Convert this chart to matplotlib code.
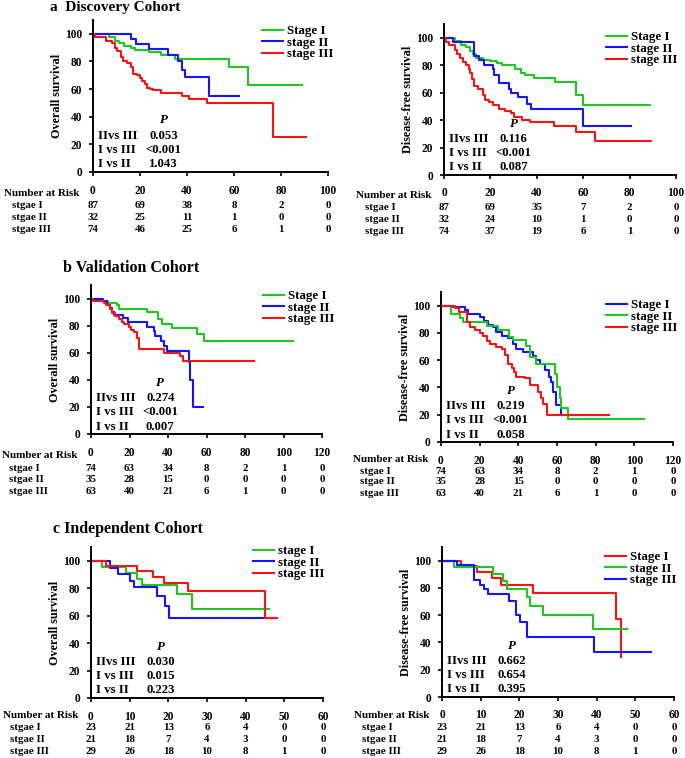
import matplotlib
matplotlib.use("Agg")
import matplotlib.pyplot as plt
from matplotlib.transforms import blended_transform_factory

plt.rcParams['font.family'] = ['Liberation Serif', 'DejaVu Serif']
plt.rcParams['font.weight'] = 'bold'

GREEN = '#1ec81e'
BLUE = '#1414f5'
RED = '#f51414'

# ---------------- curve data (time in months, survival %) ----------------
# a: Discovery cohort, overall survival
a_os_I_t = [0, 7, 9.5, 11, 13, 16, 18, 24, 29, 35, 58, 66, 89]
a_os_I_s = [100, 97.5, 95, 93, 91, 90, 88, 86.5, 85, 82, 76, 63, 63]
a_os_II_t = [0, 16, 18.4, 24, 32, 36, 37.8, 39, 49.5, 62]
a_os_II_s = [100, 96, 92.5, 89, 85, 80, 74, 68.5, 55, 55]
a_os_III_t = [0, 1, 5.7, 8, 9.5, 10.2, 12, 12.7, 14.4, 16, 17, 18.7, 20, 21, 22, 23,
              24.3, 25.7, 29, 37.8, 41, 48.4, 76.7, 90.5]
a_os_III_s = [100, 97.5, 95, 93, 90, 87.5, 83, 80, 79, 76, 71, 70, 68, 66, 64, 61,
              60, 59, 57, 55, 53, 50, 25, 25]
# a: Discovery cohort, disease-free survival
a_dfs_I_t = [0, 4.7, 7.5, 9.6, 11, 12.4, 13.8, 16.7, 20, 23, 25, 30.8, 33, 35, 39,
             48, 57, 60, 88.7]
a_dfs_I_s = [100, 97.5, 95, 93, 90, 88, 85.5, 84, 83, 81.5, 80, 77, 74, 72.5, 70.5,
             68, 58, 51, 51]
a_dfs_II_t = [0, 4, 13, 15, 17.4, 21, 21.6, 23.7, 28, 28.7, 32, 35.7, 37.6, 60, 80.6]
a_dfs_II_s = [100, 97, 87, 84, 80, 77, 73, 67, 63, 60, 57, 52, 48, 36, 36]
a_dfs_III_t = [0, 1, 2, 4.7, 5.6, 7, 8.2, 9.3, 10.6, 11.4, 12, 12.8, 14.5, 16.7, 17.6,
               19.2, 21, 23.7, 26.5, 29, 30, 33.6, 37, 47.5, 57, 65, 89.4]
a_dfs_III_s = [100, 97, 95, 91, 88, 85, 82, 80, 77, 74, 70, 65, 63, 58, 55,
               53, 51, 48, 46.5, 45, 42, 40, 38.5, 36, 31, 25, 25]

# b: Validation cohort, overall survival
b_os_I_t = [0, 5.7, 9, 13.5, 14.4, 29, 35, 37, 42, 55, 58.5, 105]
b_os_I_s = [100, 98, 97, 95, 92, 90, 85, 81, 78.5, 74, 69, 69]
b_os_II_t = [0, 6, 8.3, 9.7, 11, 11.8, 16.6, 19.2, 29, 32.5, 33, 36.4, 38, 39.5,
             50.7, 51.3, 53, 58]
b_os_II_s = [100, 98, 95, 93, 90, 88, 85.5, 82.5, 79, 76, 72.5, 69, 65, 61.5,
             53, 39.5, 20, 20]
b_os_III_t = [0, 1, 6.6, 8, 10, 11, 12.6, 14.4, 16, 17.3, 19.6, 21, 22.5, 24, 24.8,
              38, 46.4, 48, 84.5]
b_os_III_s = [100, 98.5, 97, 95, 92, 89, 87, 85, 83, 81, 79, 77, 75, 71, 63,
              60, 57.5, 54, 54]
# b: Validation cohort, disease-free survival
b_dfs_I_t = [0, 6.4, 12.4, 14, 20, 22, 24.4, 27, 28.7, 31.3, 34.8, 37.3, 39, 42.5,
             47.7, 49, 51, 53.7, 56, 57, 58, 59.4, 62.3, 70]
b_dfs_I_s = [100, 99, 97, 94, 92, 89, 86, 84, 81, 78, 76, 72, 68, 66,
             63, 60, 57, 53, 48, 44, 37, 27, 20, 20]
b_dfs_II_t = [0, 5, 9.8, 11.2, 23.6, 29.6, 35.3, 37.3, 44.2, 46, 49, 58.9, 60, 61.4,
              62.3, 65.7, 104.8]
b_dfs_II_s = [100, 94, 91, 88, 85, 82, 77, 74.5, 70.5, 62, 57.5, 50, 40, 32,
              25, 17, 17]
b_dfs_III_t = [0, 7.2, 9.3, 13.3, 15, 17.6, 20, 21.9, 23.6, 25.3, 28.7, 31.3, 33, 34.8,
               36.5, 37.7, 39, 43.4, 46, 50.3, 51.5, 52.8, 55, 87]
b_dfs_III_s = [100, 98, 95, 88, 84, 82, 80, 78, 74, 72, 70, 68, 64, 57,
               54, 51, 48, 47, 42, 37, 32, 28, 20, 20]

# c: Independent cohort, overall survival
c_os_I_t = [0, 2.9, 9, 12, 13.1, 22.2, 26.1, 46]
c_os_I_s = [100, 95.5, 91, 86.5, 82.5, 76, 65, 65]
c_os_II_t = [0, 5, 7, 10.1, 11, 17, 19.2, 20.2, 47]
c_os_II_s = [100, 95, 90.5, 85.5, 80.5, 74, 67, 58.5, 58.5]
c_os_III_t = [0, 3.9, 12, 16, 19, 25.2, 45.1, 48]
c_os_III_s = [100, 96, 92.5, 88.5, 84, 78, 58.5, 58.5]
# c: Independent cohort, disease-free survival
c_dfs_I_t = [0, 5, 9, 12.9, 15.2, 23.5, 45, 46.2]
c_dfs_I_s = [100, 96, 91.5, 87, 82, 76, 57, 29]
c_dfs_II_t = [0, 3, 13.3, 15.9, 16.8, 21.9, 22.8, 26, 39.1, 47.9]
c_dfs_II_s = [100, 95, 90.5, 85, 79.5, 73.5, 67, 60, 50, 50]
c_dfs_III_t = [0, 3.9, 8.2, 9.9, 10.9, 12, 17.2, 19.2, 20.2, 22.1, 39.3, 54]
c_dfs_III_s = [100, 96.5, 86, 82, 79, 75.5, 70.5, 60, 55, 44, 33, 33]

# ---------------- numbers at risk ----------------
a_risk_t = [0, 20, 40, 60, 80, 100]
a_os_risk = [[87, 69, 38, 8, 2, 0], [32, 25, 11, 1, 0, 0], [74, 46, 25, 6, 1, 0]]
a_dfs_risk = [[87, 69, 35, 7, 2, 0], [32, 24, 10, 1, 0, 0], [74, 37, 19, 6, 1, 0]]
b_risk_t = [0, 20, 40, 60, 80, 100, 120]
b_risk = [[74, 63, 34, 8, 2, 1, 0], [35, 28, 15, 0, 0, 0, 0], [63, 40, 21, 6, 1, 0, 0]]
c_risk_t = [0, 10, 20, 30, 40, 50, 60]
c_risk = [[23, 21, 13, 6, 4, 0, 0], [21, 18, 7, 4, 3, 0, 0], [29, 26, 18, 10, 8, 1, 0]]
risk_rows = ['stgae I', 'stgae II', 'stgae III']

# ---------------- p values ----------------
p_labels = ['IIvs III', 'I vs III', 'I vs II']
a_os_p = ['0.053', '<0.001', '1.043']
a_dfs_p = ['0.116', '<0.001', '0.087']
b_os_p = ['0.274', '<0.001', '0.007']
b_dfs_p = ['0.219', '<0.001', '0.058']
c_os_p = ['0.030', '0.015', '0.223']
c_dfs_p = ['0.662', '0.654', '0.395']

W, H = 685, 758
fig = plt.figure(figsize=(W / 100, H / 100), dpi=100)


def px_rect(x0, x1, top, bottom):
    return [x0 / W, 1 - bottom / H, (x1 - x0) / W, (bottom - top) / H]


panels = [
    dict(rect=(93, 328, 20, 172), xmax=100, xstep=20, ylabel='Overall survival',
         curves=[(a_os_I_t, a_os_I_s, GREEN), (a_os_II_t, a_os_II_s, BLUE),
                 (a_os_III_t, a_os_III_s, RED)],
         labels=['Stage I', 'stage II', 'stage III'], leg=(262, 33),
         p=a_os_p, risk_t=a_risk_t, risk=a_os_risk, risk_x=(4, 12),
         risk_y=(193, 205, 217, 229)),
    dict(rect=(444, 676, 24, 175), xmax=100, xstep=20, ylabel='Disease-free survival',
         curves=[(a_dfs_I_t, a_dfs_I_s, GREEN), (a_dfs_II_t, a_dfs_II_s, BLUE),
                 (a_dfs_III_t, a_dfs_III_s, RED)],
         labels=['Stage I', 'stage II', 'stage III'], leg=(606, 39),
         p=a_dfs_p, risk_t=a_risk_t, risk=a_dfs_risk, risk_x=(356, 365),
         risk_y=(196, 208, 220, 231)),
    dict(rect=(91, 322, 285, 434), xmax=120, xstep=20, ylabel='Overall survival',
         curves=[(b_os_I_t, b_os_I_s, GREEN), (b_os_II_t, b_os_II_s, BLUE),
                 (b_os_III_t, b_os_III_s, RED)],
         labels=['Stage I', 'stage II', 'stage III'], leg=(263, 298),
         p=b_os_p, risk_t=b_risk_t, risk=b_risk, risk_x=(2, 9),
         risk_y=(455, 468, 479, 491)),
    dict(rect=(441, 673, 292, 442), xmax=120, xstep=20, ylabel='Disease-free survival',
         curves=[(b_dfs_I_t, b_dfs_I_s, BLUE), (b_dfs_II_t, b_dfs_II_s, GREEN),
                 (b_dfs_III_t, b_dfs_III_s, RED)],
         labels=['Stage I', 'stage II', 'stage III'], leg=(606, 307),
         p=b_dfs_p, risk_t=b_risk_t, risk=b_risk, risk_x=(353, 360),
         risk_y=(459, 471, 482, 494)),
    dict(rect=(91, 323, 547, 698), xmax=60, xstep=10, ylabel='Overall survival',
         curves=[(c_os_I_t, c_os_I_s, GREEN), (c_os_II_t, c_os_II_s, BLUE),
                 (c_os_III_t, c_os_III_s, RED)],
         labels=['stage I', 'stage II', 'stage III'], leg=(253, 553),
         p=c_os_p, risk_t=c_risk_t, risk=c_risk, risk_x=(3, 10),
         risk_y=(716, 728, 740, 751)),
    dict(rect=(442, 674, 547, 697), xmax=60, xstep=10, ylabel='Disease-free survival',
         curves=[(c_dfs_I_t, c_dfs_I_s, RED), (c_dfs_II_t, c_dfs_II_s, GREEN),
                 (c_dfs_III_t, c_dfs_III_s, BLUE)],
         labels=['Stage I', 'stage II', 'stage III'], leg=(605, 559),
         p=c_dfs_p, risk_t=c_risk_t, risk=c_risk, risk_x=(354, 362),
         risk_y=(716, 728, 740, 751)),
]

for pn in panels:
    x0, x1, top, bottom = pn['rect']
    ax = fig.add_axes(px_rect(x0, x1, top, bottom))
    lines = []
    for (t, s, c), lab in zip(pn['curves'], pn['labels']):
        ln, = ax.step(t, s, where='post', color=c, lw=1.5, label=lab)
        lines.append(ln)
    ax.set_xlim(0, pn['xmax'])
    ax.set_ylim(0, 110)
    ax.set_xticks(range(0, pn['xmax'] + 1, pn['xstep']))
    ax.set_yticks(range(0, 101, 20))
    for sp in ['top', 'right']:
        ax.spines[sp].set_visible(False)
    for sp in ['left', 'bottom']:
        ax.spines[sp].set_linewidth(1.4)
    ax.tick_params(direction='out', length=3, width=1.2, labelsize=8.3, pad=5)
    ax.tick_params(axis='x', pad=6)
    ax.set_ylabel(pn['ylabel'], fontsize=8.7, fontweight='bold', va='center')
    ax.yaxis.set_label_coords(-36 / (x1 - x0), 0.5)

    lx, ly = pn['leg']
    ax.legend(handles=lines, loc='upper left',
              bbox_to_anchor=(lx / W, 1 - (ly - 8) / H), bbox_transform=fig.transFigure,
              frameon=False, fontsize=9.3, borderpad=0, borderaxespad=0,
              handlelength=1.6, handletextpad=0.35, labelspacing=-0.04)

    # p-values
    ax.text(0.30, 0.34, 'P', transform=ax.transAxes, ha='center', va='center',
            fontsize=9.3, fontstyle='italic', fontweight='bold')
    for i, (lab, pv) in enumerate(zip(p_labels, pn['p'])):
        yy = [0.24, 0.145, 0.05][i]
        ax.text(0.02, yy, lab, transform=ax.transAxes, ha='left', va='center', fontsize=9.2)
        ax.text(0.30, yy, pv, transform=ax.transAxes, ha='center', va='center', fontsize=9.2)

    # number at risk table
    bt = blended_transform_factory(ax.transData, fig.transFigure)
    nx, rx = pn['risk_x']
    ry = pn['risk_y']
    fig.text(nx / W, 1 - ry[0] / H, 'Number at Risk', ha='left', va='center', fontsize=8)
    for r, (name, vals) in enumerate(zip(risk_rows, pn['risk'])):
        y = 1 - ry[r + 1] / H
        fig.text(rx / W, y, name, ha='left', va='center', fontsize=7.8)
        for tt, v in zip(pn['risk_t'], vals):
            ax.text(tt, y, str(v), transform=bt, ha='center', va='center', fontsize=7.8,
                    clip_on=False)

fig.text(50 / W, 1 - 8 / H, 'a  Discovery Cohort', ha='left', va='center', fontsize=11)
fig.text(63 / W, 1 - 268 / H, 'b Validation Cohort', ha='left', va='center', fontsize=11.5)
fig.text(53 / W, 1 - 529 / H, 'c Independent Cohort', ha='left', va='center', fontsize=11.5)

fig.savefig('out.png', dpi=100)
